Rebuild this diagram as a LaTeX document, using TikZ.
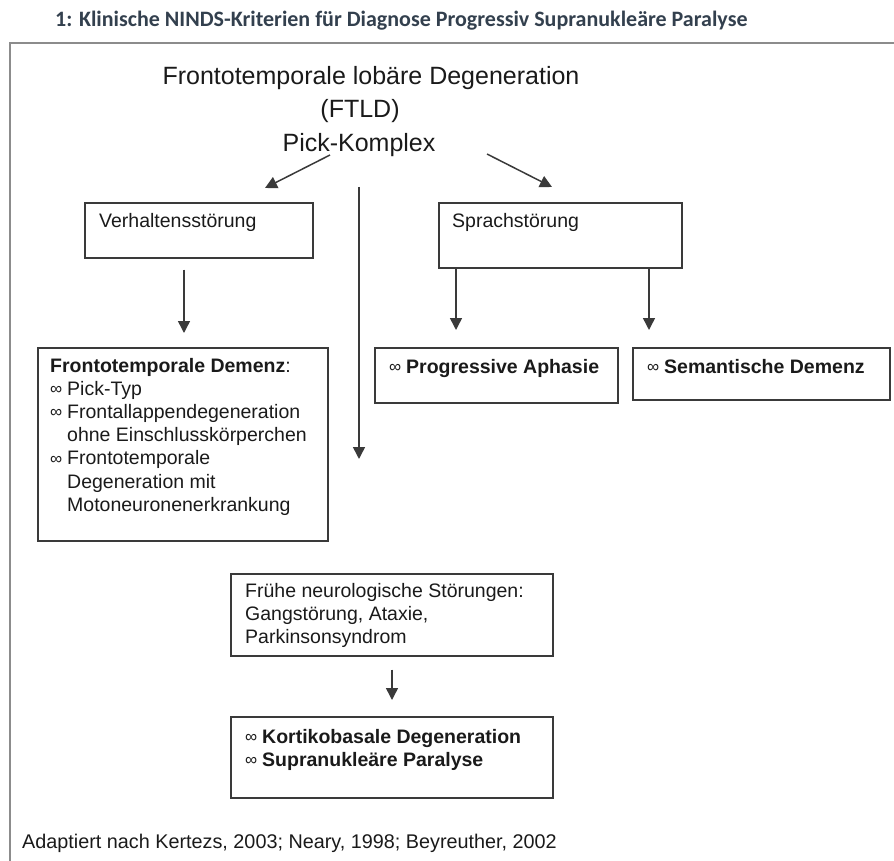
\documentclass[tikz,border=0pt]{standalone}
\usepackage{fontspec}
\setmainfont{Liberation Sans}
\newfontfamily\capfont{Carlito}
\usetikzlibrary{arrows.meta,calc}
\definecolor{boxc}{HTML}{3A3A3A}
\definecolor{txtc}{HTML}{1A1A1A}
\definecolor{framec}{HTML}{8C8C8C}
\definecolor{capc}{HTML}{33404E}
\newcommand\infi{\makebox[17pt][l]{\fontsize{17}{17}\selectfont\raisebox{0.5pt}{∞}}}
\newcommand\hang{\hspace*{17pt}}
\newcommand\lines[1]{\begin{tabular}[t]{@{}l@{}}#1\end{tabular}}
\begin{document}
\begin{tikzpicture}[x=1pt,y=-1pt,
  box/.style={draw=boxc, line width=1.6pt, inner sep=0pt, anchor=north west},
  arr/.style={draw=boxc, line width=1.5pt, -{Triangle[width=12pt,length=12pt]}},
  txt/.style={anchor=base west, inner sep=0pt, font=\fontsize{19.5}{23.2}\selectfont, text=txtc},
  ttl/.style={anchor=base, inner sep=0pt, font=\fontsize{25}{30}\selectfont, text=txtc},
  frame/.style={draw=framec, line width=2.5pt}
]
\useasboundingbox (0,0) rectangle (894,861);

% caption and frame
\node[anchor=base west, inner sep=0pt, font=\capfont\bfseries\fontsize{22}{22}\selectfont, text=capc] (cap) at (55,27) {1: Klinische NINDS-Kriterien für Diagnose Progressiv Supranukleäre Paralyse};
\draw[frame] (10,861) -- (10,43) -- (894,43);

% title
\node[ttl] (t1) at (371,85) {Frontotemporale lobäre Degeneration};
\node[ttl] (t2) at (360,118) {(FTLD)};
\node[ttl] (t3) at (359,152) {Pick-Komplex};

% boxes
\node[box, minimum width=228pt, minimum height=55pt] (verh) at (84,202) {};
\node[box, minimum width=243pt, minimum height=65pt] (spr) at (438,202) {};
\node[box, minimum width=290pt, minimum height=193pt] (ftd) at (37,347) {};
\node[box, minimum width=243pt, minimum height=55pt] (prog) at (374,347) {};
\node[box, minimum width=257pt, minimum height=52pt] (sem) at (632,347) {};
\node[box, minimum width=322pt, minimum height=82pt] (fru) at (230,573) {};
\node[box, minimum width=322pt, minimum height=81pt] (kort) at (230,716) {};

% box texts
\node[txt] (tverh) at (99,228) {Verhaltensstörung};
\node[txt] (tspr) at (452,228) {Sprachstörung};
\node[txt] (tftd) at (50,372) {\lines{\textbf{Frontotemporale Demenz}:\\
\infi Pick-Typ\\
\infi Frontallappendegeneration\\
\hang ohne Einschlusskörperchen\\
\infi Frontotemporale\\
\hang Degeneration mit\\
\hang Motoneuronenerkrankung}};
\node[txt] (tprog) at (389,373) {\infi\textbf{Progressive Aphasie}};
\node[txt] (tsem) at (647,373) {\infi\textbf{Semantische Demenz}};
\node[txt] (tfru) at (245,597) {\lines{Frühe neurologische Störungen:\\Gangstörung, Ataxie,\\Parkinsonsyndrom}};
\node[txt] (tkort) at (245,743) {\lines{\infi\textbf{Kortikobasale Degeneration}\\\infi\textbf{Supranukleäre Paralyse}}};

% footer
\node[txt, font=\fontsize{19.8}{23}\selectfont] (foot) at (22,848) {Adaptiert nach Kertezs, 2003; Neary, 1998; Beyreuther, 2002};

% connectors
\coordinate (la) at (330,155);
\coordinate (lb) at (265,188);
\coordinate (ra) at (487,154);
\coordinate (rb) at (552,187);
\coordinate (ca) at (359,187);
\coordinate (cb) at (359,459);
\draw[arr] (la) -- (lb);
\draw[arr] (ra) -- (rb);
\draw[arr] (ca) -- (cb);
\draw[arr] ($(verh.south west)+(100,11)$) -- ($(ftd.north west)+(147,-14)$);
\draw[arr] ($(spr.south west)+(18,0)$) -- ($(prog.north west)+(82,-17)$);
\draw[arr] ($(spr.south west)+(211,0)$) -- ($(sem.north west)+(17,-17)$);
\draw[arr] ($(fru.south west)+(162,13)$) -- ($(kort.north west)+(162,-16)$);
\end{tikzpicture}
\end{document}
